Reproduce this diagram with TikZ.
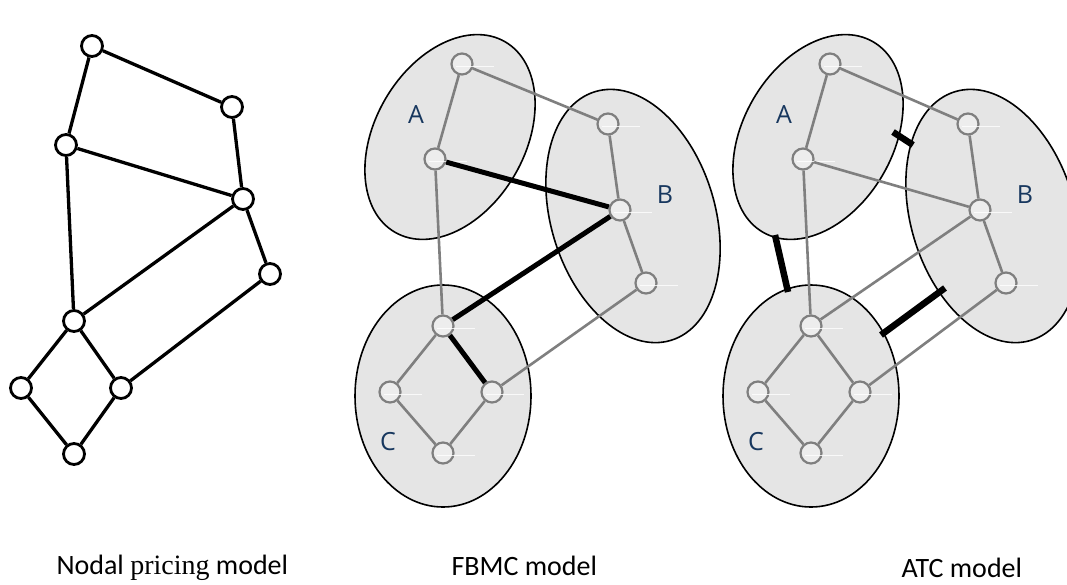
\documentclass[tikz,border=0pt]{standalone}
\usepackage{fontspec}
\usetikzlibrary{shapes.geometric}
\newfontfamily\capfont{Carlito}
\newfontfamily\zonefont{Open Sans}
\newfontfamily\serfont{Liberation Serif}
\definecolor{zonefill}{RGB}{229,229,229}
\definecolor{busfill}{RGB}{237,237,237}
\definecolor{linegrey}{RGB}{127,127,127}
\definecolor{labelblue}{RGB}{23,55,94}

\begin{document}
\begin{tikzpicture}[x=1pt,y=-1pt]
        \tikzstyle{bus}=[circle, draw, line width=2.8pt, fill=white, minimum size=21pt, inner sep=0];
        \tikzstyle{zbus}=[circle, draw=linegrey, line width=2.2pt, fill=busfill, minimum size=21pt, inner sep=0];
        \tikzstyle{zone}=[ellipse, draw, line width=1.6pt, fill=zonefill, inner sep=0];
        \tikzstyle{lien}=[line width=3.3pt];
        \tikzstyle{ac}=[draw=linegrey, line width=2.6pt];
        \tikzstyle{flux}=[line width=5pt];
        \tikzstyle{atc}=[line width=6.5pt];
        \tikzstyle{glint}=[white, opacity=0.8, line width=1pt];
        \tikzstyle{zonelabel}=[text=labelblue, font=\zonefont\fontsize{25}{25}\selectfont];
        \tikzstyle{caption}=[anchor=base west, font=\capfont\fontsize{28}{28}\selectfont];

        \useasboundingbox (0,0) rectangle (1067,584);
        \clip (0,0) rectangle (1067,584);

        % nodal pricing model
        \foreach \n/\x/\y in {1/92/46, 2/232/107, 3/66/145, 4/243/199, 5/270/274,
                              6/74/321, 7/21/388, 8/121/388, 9/74/454}{
          \node[bus] (N\n) at (\x,\y) {};
        }
        \foreach \a/\b in {1/2, 1/3, 2/4, 3/4, 3/6, 4/6, 4/5, 5/8, 6/7, 6/8, 7/9, 8/9}{
          \draw[lien] (N\a) -- (N\b);
        }

        % zones A, B, C (F = FBMC, T = ATC)
        \foreach \p/\dx/\bx in {F/0/0, T/368/-8}{
          \begin{scope}[shift={(\dx,0)}]
            \node[zone, minimum width=150pt, minimum height=220pt, rotate=-30] (\p A) at (450,137) {};
            \node[zone, minimum width=164pt, minimum height=260pt, rotate=17] (\p B) at (633+\bx,216) {};
            \node[zone, minimum width=176pt, minimum height=222pt] (\p C) at (443,396) {};
            \node[zonelabel] (\p lA) at (416,115) {A};
            \node[zonelabel] (\p lB) at (665+\bx,195) {B};
            \node[zonelabel] (\p lC) at (388,442) {C};

            \node[zbus] (\p a1) at (462,64) {};
            \node[zbus] (\p a2) at (435,159) {};
            \node[zbus] (\p b1) at (608+\bx,124) {};
            \node[zbus] (\p b2) at (620+\bx,210) {};
            \node[zbus] (\p b3) at (646+\bx,283) {};
            \node[zbus] (\p c1) at (443,326) {};
            \node[zbus] (\p c2) at (390,392) {};
            \node[zbus] (\p c3) at (492,392) {};
            \node[zbus] (\p c4) at (443,453) {};
            \foreach \v in {a1,a2,b1,b2,b3,c1,c2,c3,c4}{
              \draw[glint] ([shift={(-6,2)}]\p\v.center) -- ++(38,0);
            }
          \end{scope}
        }

        % FBMC model
        \foreach \a/\b in {a1/a2, a1/b1, a2/c1, b1/b2, b2/b3, b3/c3, c1/c2, c2/c4, c3/c4}{
          \draw[ac] (F\a) -- (F\b);
        }
        \foreach \a/\b in {a2/b2, b2/c1, c1/c3}{
          \draw[flux] (F\a) -- (F\b);
        }

        % ATC model
        \foreach \a/\b in {a1/a2, a1/b1, a2/b2, a2/c1, b1/b2, b2/b3, b2/c1, b3/c3,
                           c1/c2, c1/c3, c2/c4, c3/c4}{
          \draw[ac] (T\a) -- (T\b);
        }
        \coordinate (ab1) at (893,132);
        \coordinate (ab2) at (913,145);
        \coordinate (ac1) at (775,235);
        \coordinate (ac2) at (788,292);
        \coordinate (bc1) at (881,335);
        \coordinate (bc2) at (945,288);
        \draw[atc] (ab1) -- (ab2);
        \draw[atc] (ac1) -- (ac2);
        \draw[atc] (bc1) -- (bc2);

        \node[caption] (capN) at (53,574) {Nodal {\serfont pricing} model};
        \node[caption] (capF) at (448,575) {FBMC model};
        \node[caption] (capT) at (898,577) {ATC model};
\end{tikzpicture}
\end{document}
